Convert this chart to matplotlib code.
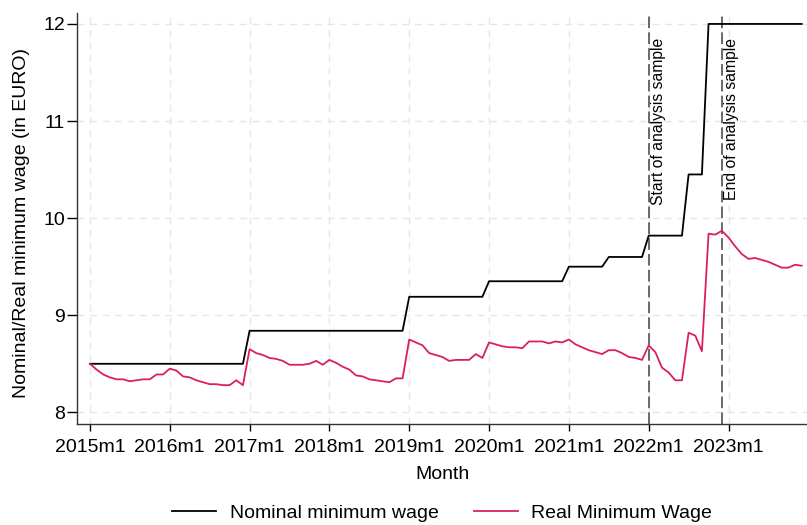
import numpy as np
import matplotlib.pyplot as plt

plt.rcParams['font.family'] = ['Liberation Sans', 'DejaVu Sans']

# monthly series, 2015m1 .. 2023m12
years = [2015, 2016, 2017, 2018, 2019, 2020, 2021, 2022, 2023]
tick_labels = [f'{y}m1' for y in years]

nominal = ([8.50] * 24 + [8.84] * 24 + [9.19] * 12 + [9.35] * 12
           + [9.50] * 6 + [9.60] * 6 + [9.82] * 6 + [10.45] * 3 + [12.00] * 3
           + [12.00] * 12)

real = [
    8.50, 8.44, 8.39, 8.36, 8.34, 8.34, 8.32, 8.33, 8.34, 8.34, 8.39, 8.39,
    8.45, 8.43, 8.37, 8.36, 8.33, 8.31, 8.29, 8.29, 8.28, 8.28, 8.33, 8.28,
    8.65, 8.61, 8.59, 8.56, 8.55, 8.53, 8.49, 8.49, 8.49, 8.50, 8.53, 8.49,
    8.54, 8.51, 8.47, 8.44, 8.38, 8.37, 8.34, 8.33, 8.32, 8.31, 8.35, 8.35,
    8.75, 8.72, 8.69, 8.61, 8.59, 8.57, 8.53, 8.54, 8.54, 8.54, 8.60, 8.56,
    8.72, 8.70, 8.68, 8.67, 8.67, 8.66, 8.73, 8.73, 8.73, 8.71, 8.73, 8.72,
    8.75, 8.70, 8.67, 8.64, 8.62, 8.60, 8.64, 8.64, 8.61, 8.57, 8.56, 8.54,
    8.69, 8.62, 8.46, 8.41, 8.33, 8.33, 8.82, 8.79, 8.63, 9.84, 9.83, 9.87,
    9.80, 9.71, 9.63, 9.58, 9.59, 9.57, 9.55, 9.52, 9.49, 9.49, 9.52, 9.51,
]

start_month = 84  # 2022m1
end_month = 95    # 2022m12

months = np.arange(len(real))

fig = plt.figure(figsize=(8.07, 5.25), dpi=100)
ax = fig.add_axes([0.0958, 0.1924, 0.9042, 0.7829])

grid_col = '#e6e6e6'
for t in range(0, 108, 12):
    ax.axvline(t, color=grid_col, lw=1.0, ls=(0, (5, 4)), zorder=0)
for v in [8, 9, 10, 11, 12]:
    ax.axhline(v, color=grid_col, lw=1.0, ls=(0, (5, 4)), zorder=0)

ax.plot(months, nominal, color='black', lw=1.3, label='Nominal minimum wage', zorder=3)
ax.plot(months, real, color='#dc1f5c', lw=1.3, label='Real Minimum Wage', zorder=3)

for m, txt in [(start_month, 'Start of analysis sample'), (end_month, 'End of analysis sample')]:
    ax.axvline(m, color='#505050', lw=1.2, ls=(0, (7, 2.5)), zorder=2)
    ax.text(m + 1.5, 11.86, txt, rotation=90, ha='center', va='top', fontsize=11.3)

ax.set_xlim(-1.9, 107.8)
ax.set_ylim(7.88, 12.113)
ax.set_xticks(range(0, 108, 12))
ax.set_xticklabels(tick_labels)
ax.set_yticks([8, 9, 10, 11, 12])
ax.set_yticklabels(['8', '9', '10', '11', '12'])
ax.tick_params(axis='x', labelsize=14, length=5, width=1, pad=6, colors='black')
ax.tick_params(axis='y', labelsize=14, length=7, width=1, pad=2, colors='black')

for s in ['top', 'right']:
    ax.spines[s].set_visible(False)
for s in ['left', 'bottom']:
    ax.spines[s].set_color('#333333')
    ax.spines[s].set_linewidth(1.0)

ax.set_xlabel('Month', fontsize=14, labelpad=7)
ax.set_ylabel('Nominal/Real minimum wage (in EURO)', fontsize=14)
ax.yaxis.set_label_coords(-0.065, 0.49)

fig.legend(loc='center', bbox_to_anchor=(0.548, 0.023), ncol=2, frameon=False,
           fontsize=14, handlelength=2.27, handletextpad=0.7, columnspacing=1.8)

fig.savefig('out.png', dpi=100)
